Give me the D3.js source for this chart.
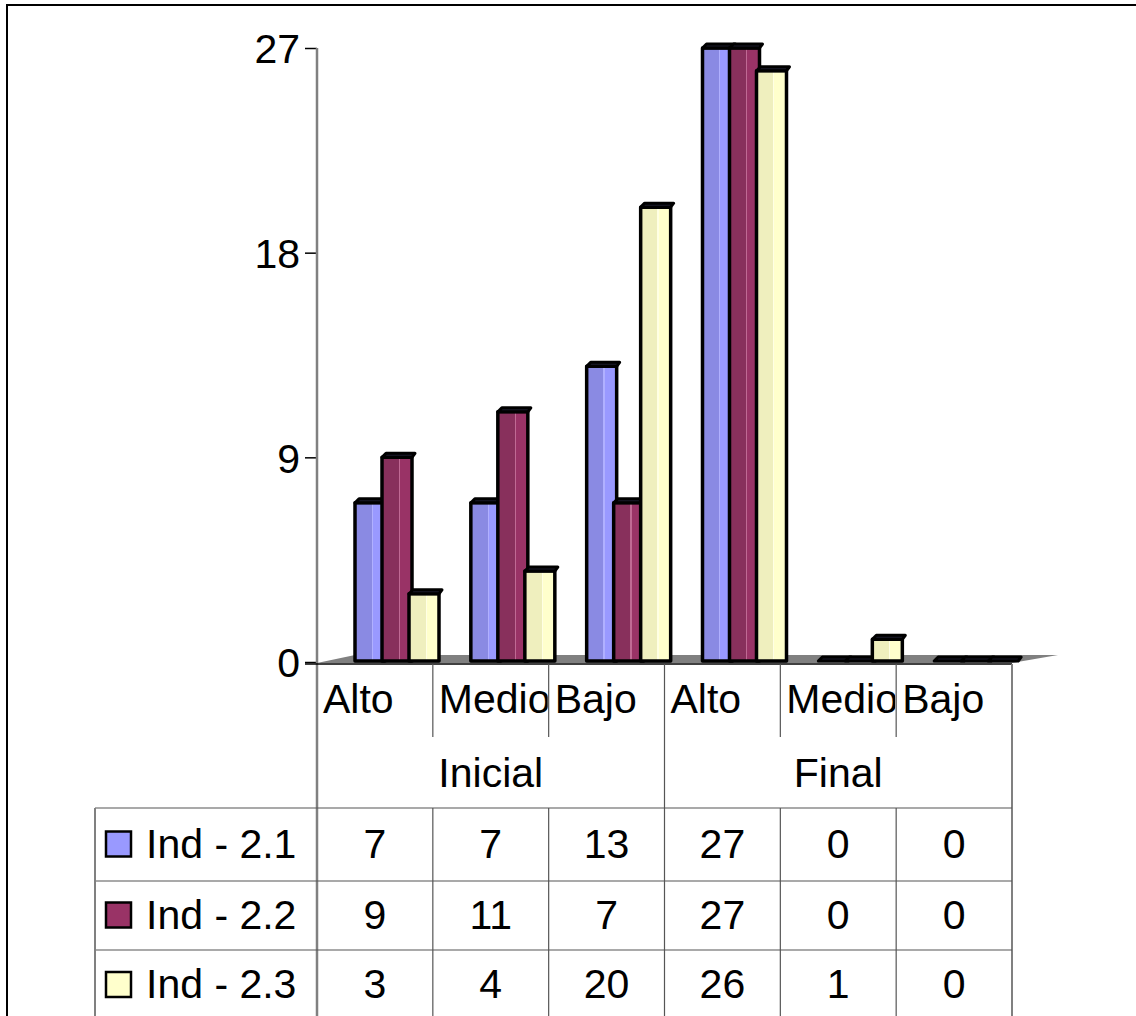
<!DOCTYPE html>
<html>
<head>
<meta charset="utf-8">
<script src="https://cdn.jsdelivr.net/npm/d3@7"></script>
<style>
  html, body { margin: 0; padding: 0; background: #fff; overflow: hidden; }
  svg { display: block; }
  text { font-family: "Liberation Sans", Arial, sans-serif; fill: #000; }
</style>
</head>
<body>
<svg id="chart" width="1136" height="1016"></svg>
<script>
// ---- data ----
const categories = ["Alto", "Medio", "Bajo", "Alto", "Medio", "Bajo"];
const groups = ["Inicial", "Final"];
const seriesNames = ["Ind - 2.1", "Ind - 2.2", "Ind - 2.3"];
const ind21 = [7, 7, 13, 27, 0, 0];
const ind22 = [9, 11, 7, 27, 0, 0];
const ind23 = [3, 4, 20, 26, 1, 0];
const yTickValues = [0, 9, 18, 27];
const seriesValues = [ind21, ind22, ind23];
const seriesColors = ["#9999ff", "#993366", "#ffffcc"];
const seriesDark = ["#8a8ae3", "#88305c", "#efefbe"];
const seriesHi = ["#b0b0ff", "#c06a94", "#ffffe4"];

// ---- layout ----
const svg = d3.select("#chart");
const W = 1136, H = 1016;
const plotLeft = 317, plotRight = 1012;
const yTop = 48, yBase = 662;
const fontSize = 41;
const depthX = 40, depthY = 8;

const y = d3.scaleLinear().domain([0, 27]).range([yBase, yTop]);
const x = d3.scaleBand().domain(d3.range(categories.length)).range([plotLeft, plotRight]).padding(0);
const xs = d3.scaleBand().domain(d3.range(seriesNames.length)).range([38, 38 + 81]).padding(0);
const barW = 30;

// gradients
const defs = svg.append("defs");
seriesColors.forEach((c, i) => {
  const g = defs.append("linearGradient").attr("id", "g" + i).attr("x1", 0).attr("x2", 1).attr("y1", 0).attr("y2", 0);
  g.append("stop").attr("offset", "0%").attr("stop-color", seriesDark[i]);
  g.append("stop").attr("offset", "56%").attr("stop-color", seriesDark[i]);
  g.append("stop").attr("offset", "56%").attr("stop-color", seriesHi[i]);
  g.append("stop").attr("offset", "60%").attr("stop-color", seriesHi[i]);
  g.append("stop").attr("offset", "60%").attr("stop-color", c);
  g.append("stop").attr("offset", "100%").attr("stop-color", c);
});

// outer border
svg.append("rect").attr("x", 7).attr("y", 5).attr("width", W + 20).attr("height", H + 20)
  .attr("fill", "none").attr("stroke", "#000").attr("stroke-width", 2);

// floor
const floorFront = yBase + 1;
svg.append("path")
  .attr("d", `M${plotLeft},${floorFront} L${plotLeft + depthX - 2},${floorFront - depthY} L${plotRight + depthX + 6},${floorFront - depthY} L${plotRight},${floorFront} Z`)
  .attr("fill", "#808080");

// y axis
const yAxis = d3.axisLeft(y).tickValues(yTickValues).tickSize(12).tickPadding(5);
const yg = svg.append("g").attr("transform", `translate(${plotLeft},0)`).call(yAxis);
yg.select(".domain").remove();
yg.selectAll(".tick line").attr("stroke", "#000").attr("stroke-width", 1.5);
yg.selectAll(".tick text").style("font-size", fontSize + "px").style("font-family", '"Liberation Sans", Arial, sans-serif').attr("fill", "#000").attr("dy", "0.36em");
svg.append("line").attr("x1", plotLeft).attr("x2", plotLeft).attr("y1", yTop).attr("y2", H + 10)
  .attr("stroke", "#808080").attr("stroke-width", 2.5);

// bars
const barBase = yBase - 1;
const bars = [];
categories.forEach((c, ci) => {
  seriesValues.forEach((vals, si) => {
    bars.push({ ci, si, v: vals[ci] });
  });
});
const barG = svg.append("g");
bars.forEach(d => {
  const x0 = x(d.ci) + xs(d.si);
  const x1 = x0 + barW;
  const yt = Math.min(y(d.v), barBase);
  const g = barG.append("g");
  if (barBase - yt > 0) {
    g.append("path")
      .attr("d", `M${x0},${yt} L${x1},${yt} L${x1},${barBase} L${x0},${barBase} Z`)
      .attr("fill", `url(#g${d.si})`).attr("stroke", "#000").attr("stroke-width", 3.5)
      .attr("stroke-linejoin", "round");
  }
  g.append("path")
    .attr("d", `M${x0},${yt} L${x0 + 4},${yt - 4} L${x1 + 3},${yt - 4} L${x1},${yt} Z`)
    .attr("fill", "#1b1b2b").attr("stroke", "#000").attr("stroke-width", 3)
    .attr("stroke-linejoin", "round");
});

// category axis line
svg.append("line").attr("x1", plotLeft - 12).attr("x2", plotRight).attr("y1", floorFront + 1).attr("y2", floorFront + 1)
  .attr("stroke", "#000").attr("stroke-width", 1.5);

// ---- data table ----
const rowCatTop = floorFront + 1, rowCatBot = 737, rowGrpBot = 808;
const rowH = [808, 881, 950, 1020];
const legendLeft = 95;
const lineColor = "#555";

// clip paths for category labels
categories.forEach((c, ci) => {
  defs.append("clipPath").attr("id", "clip" + ci)
    .append("rect").attr("x", x(ci)).attr("y", rowCatTop).attr("width", x.bandwidth() - 1).attr("height", rowCatBot - rowCatTop);
});

// category labels
categories.forEach((c, ci) => {
  svg.append("text").attr("x", x(ci) + 6).attr("y", 713)
    .attr("clip-path", `url(#clip${ci})`)
    .style("font-size", fontSize + "px").text(c);
});
// sub separators in category row
d3.range(1, categories.length).forEach(ci => {
  if (ci % 3 === 0) return;
  svg.append("line").attr("x1", x(ci)).attr("x2", x(ci)).attr("y1", rowCatTop).attr("y2", rowCatBot)
    .attr("stroke", lineColor).attr("stroke-width", 1.2);
});
// group labels
groups.forEach((gname, gi) => {
  const gx0 = x(gi * 3), gx1 = x(gi * 3 + 2) + x.bandwidth();
  svg.append("text").attr("x", (gx0 + gx1) / 2).attr("y", 787).attr("text-anchor", "middle")
    .style("font-size", fontSize + "px").text(gname);
});
// group separator and right border
svg.append("line").attr("x1", x(3)).attr("x2", x(3)).attr("y1", rowCatTop).attr("y2", H + 10)
  .attr("stroke", lineColor).attr("stroke-width", 1.2);
svg.append("line").attr("x1", plotRight).attr("x2", plotRight).attr("y1", rowCatTop).attr("y2", H + 10)
  .attr("stroke", "#808080").attr("stroke-width", 2);

// data rows horizontal lines
rowH.slice(0, 3).forEach(yy => {
  svg.append("line").attr("x1", legendLeft).attr("x2", plotRight).attr("y1", yy).attr("y2", yy)
    .attr("stroke", lineColor).attr("stroke-width", 1.2);
});
svg.append("line").attr("x1", legendLeft).attr("x2", legendLeft).attr("y1", rowH[0]).attr("y2", H + 10)
  .attr("stroke", "#808080").attr("stroke-width", 2);
// column separators in data rows
d3.range(1, categories.length).forEach(ci => {
  if (ci % 3 === 0) return;
  svg.append("line").attr("x1", x(ci)).attr("x2", x(ci)).attr("y1", rowH[0]).attr("y2", H + 10)
    .attr("stroke", lineColor).attr("stroke-width", 1.2);
});

seriesNames.forEach((name, si) => {
  const top = rowH[si], bot = rowH[si + 1];
  const cy = (top + bot) / 2 - 1;
  svg.append("rect").attr("x", 106).attr("y", cy - 12).attr("width", 25).attr("height", 25)
    .attr("fill", seriesColors[si]).attr("stroke", "#000").attr("stroke-width", 2.5);
  svg.append("text").attr("x", 146).attr("y", cy + 14).style("font-size", fontSize + "px").text(name);
  seriesValues[si].forEach((v, ci) => {
    svg.append("text").attr("x", x(ci) + x.bandwidth() / 2).attr("y", cy + 14).attr("text-anchor", "middle")
      .style("font-size", fontSize + "px").text(v);
  });
});
</script>
</body>
</html>
